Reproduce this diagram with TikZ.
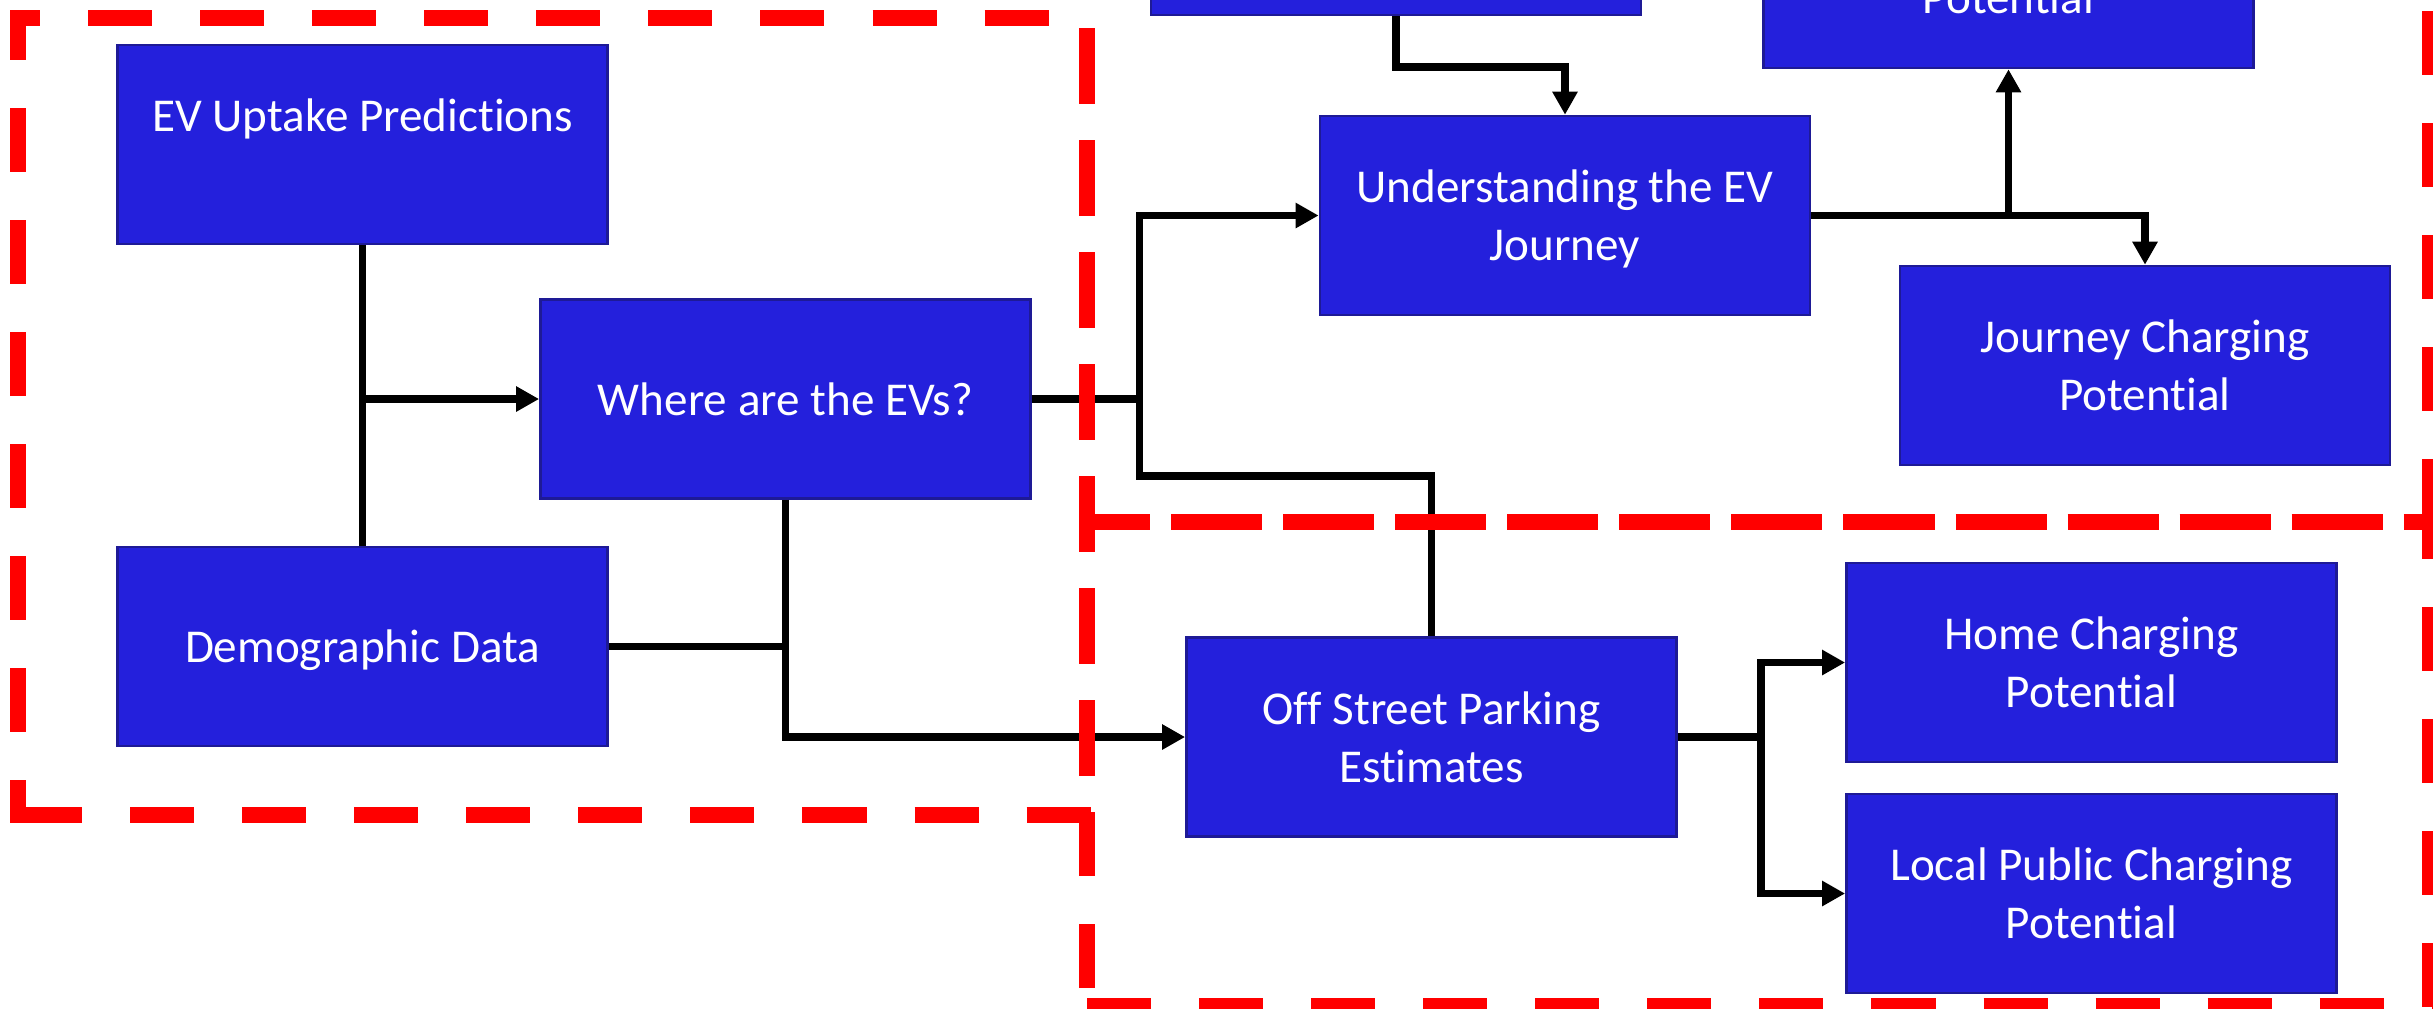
\documentclass[tikz,border=0pt]{standalone}
\usepackage{fontspec}
\setmainfont{Carlito}[Ligatures={NoRequired,NoCommon,NoContextual,NoRare},Contextuals={NoAlternate}]
\usetikzlibrary{arrows.meta}
\definecolor{boxblue}{RGB}{36,32,220}
\definecolor{boxedge}{RGB}{30,26,150}
\newcommand\evstrut{\rule[-0.269em]{0pt}{1.221em}}
\begin{document}
\begin{tikzpicture}[x=0.01cm,y=-0.01cm,
  evbox/.style={draw=boxedge, line width=0.025cm, fill=boxblue, text=white,
    minimum width=4.9cm, minimum height=1.99cm, inner sep=0pt, align=center,
    font=\fontsize{13.4pt}{16.5pt}\selectfont},
  conn/.style={line width=0.075cm, line join=miter},
  arr/.style={conn, -{Triangle[length=0.23cm,width=0.24cm]}},
  reddash/.style={draw=red, line width=0.16cm, dash pattern=on 0.64cm off 0.48cm}]
\useasboundingbox (0,0) rectangle (2433,1008);
\clip (0,0) rectangle (2433,1008);

% boxes
\node[evbox] (up) at (362.5,144.5) {EV Uptake Predictions\evstrut\\\evstrut};
\node[evbox] (demo) at (362.5,646.5) {\evstrut Demographic Data};
\node[evbox] (where) at (785.5,399) {\evstrut Where are the EVs?};
\node[evbox] (topl) at (1396,-84.5) {};
\node[evbox] (topr) at (2008.5,-31.5) {\evstrut\\\evstrut Potential};
\node[evbox] (und) at (1565,215.5) {\evstrut Understanding the EV\\\evstrut Journey};
\node[evbox] (jcp) at (2145,365.5) {\evstrut Journey Charging\\\evstrut Potential};
\node[evbox] (off) at (1431.5,737) {\evstrut Off Street Parking\\\evstrut Estimates};
\node[evbox] (home) at (2091.5,662.5) {\evstrut Home Charging\\\evstrut Potential};
\node[evbox] (local) at (2091.5,893.5) {\evstrut Local Public Charging\\\evstrut Potential};

% connectors
\coordinate (ja) at (1139.5,476);
\coordinate (jc) at (1761,737);
\draw[conn] (up.south) -- (demo.north);
\draw[arr] (up.south |- where.west) -- (where.west);
\draw[conn] (demo.east) -- (where.south |- demo.east);
\draw[arr] (where.south) |- (off.west);
\draw[arr] (where.east) -| (ja |- und.west) -- (und.west);
\draw[conn] (off.north) |- (ja) -- (ja |- where.east);
\draw[arr] (topl.south) -- ++(0,50.5) -| (und.north);
\draw[arr] (und.east) -| (topr.south);
\draw[arr] (und.east) -| (jcp.north);
\draw[arr] (off.east) -- (jc) |- (home.west);
\draw[arr] (off.east) -- (jc) |- (local.west);

% red dashed frames
\draw[reddash, dash phase=0.34cm] (10,18) -- (1095,18);
\draw[reddash, dash phase=0.14cm] (18,10) -- (18,823);
\draw[reddash, dash phase=1.04cm] (10,815) -- (1095,815);
\draw[reddash, dash phase=0.82cm] (1087,10) -- (1087,823);
\draw[reddash, dash phase=1.08cm] (1087,-200) -- (1087,530);
\draw[reddash, dash phase=0.13cm] (2430,-200) -- (2430,530);
\draw[reddash, dash phase=0.20cm] (1079,522) -- (2438,522);
\draw[reddash, dash phase=1.05cm] (1079,522) -- (2438,522);
\draw[reddash, dash phase=0.38cm] (1087,514) -- (1087,1014);
\draw[reddash, dash phase=0.19cm] (2430,514) -- (2430,1014);
\draw[reddash, dash phase=1.04cm] (1079,1006) -- (2438,1006);
\end{tikzpicture}
\end{document}
